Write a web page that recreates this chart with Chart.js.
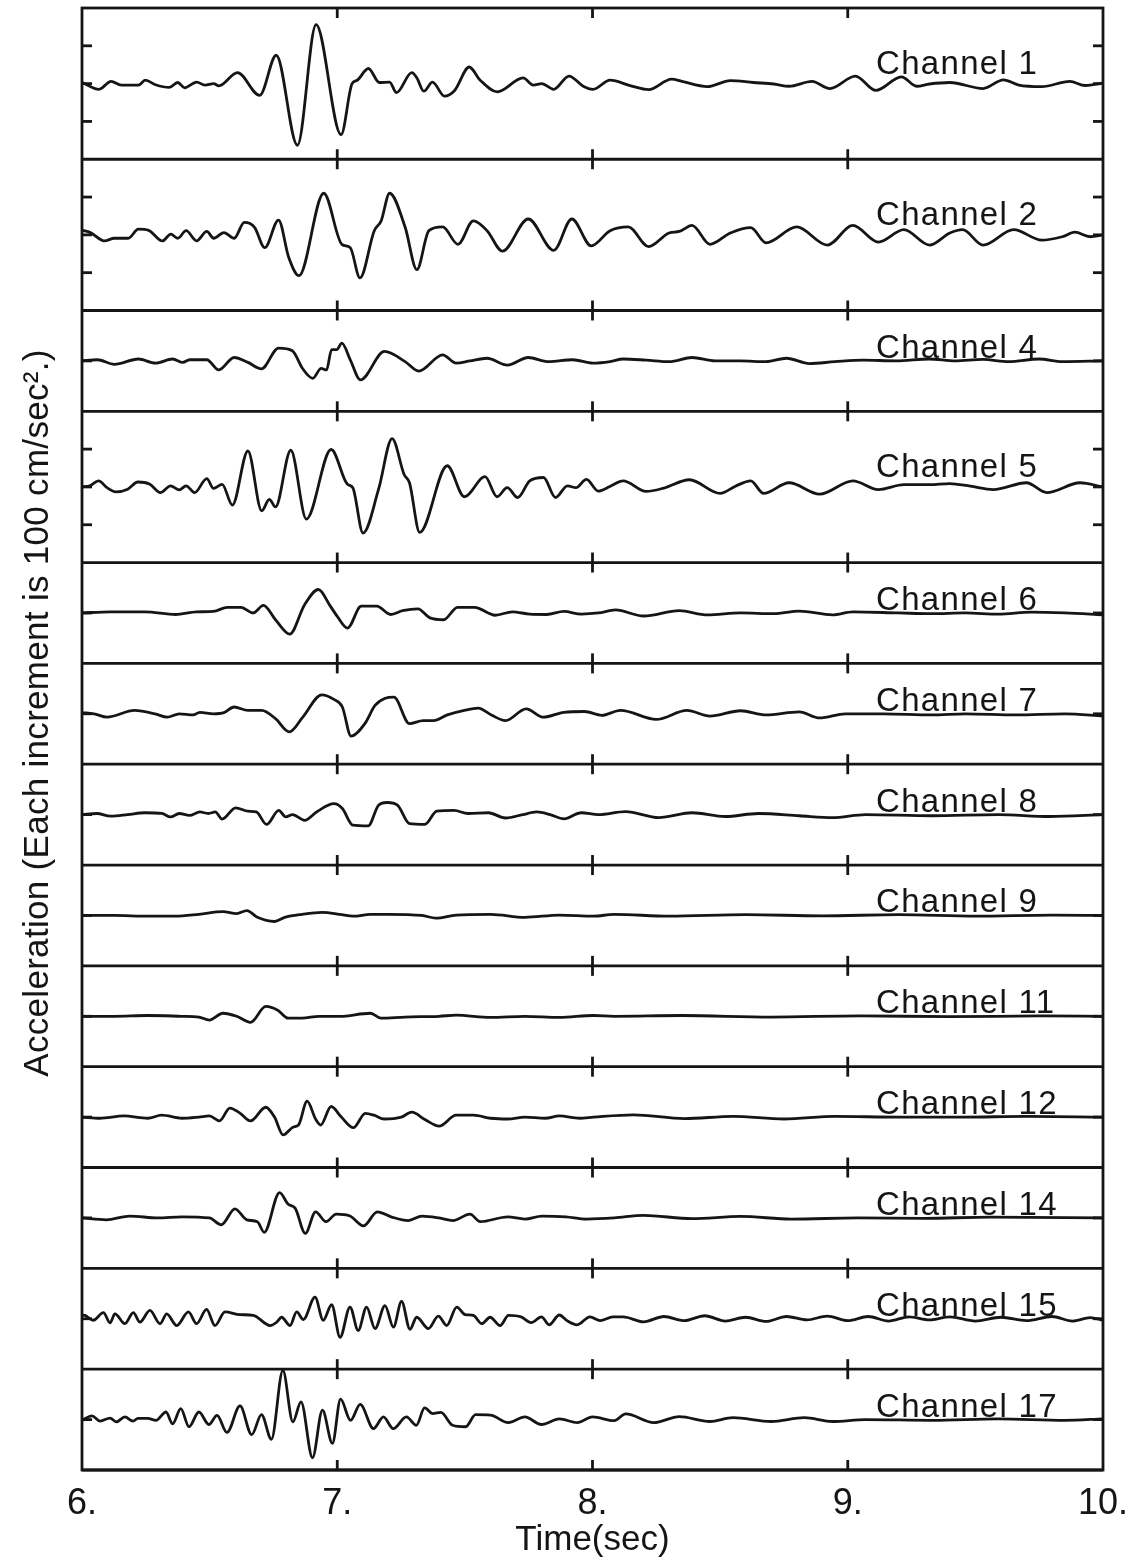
<!DOCTYPE html>
<html>
<head>
<meta charset="utf-8">
<script src="https://cdn.jsdelivr.net/npm/chart.js@4.4.0/dist/chart.umd.min.js"></script>
<style>
  html, body { margin: 0; padding: 0; background: #fff; }
  canvas { display: block; }
</style>
</head>
<body>
<canvas id="quakeChart" width="1135" height="1561"></canvas>
<script>
// time axis (sec)
const xTicks = [6, 7, 8, 9, 10];
const xTickLabels = ['6.', '7.', '8.', '9.', '10.'];

const channelNames = ['Channel 1', 'Channel 2', 'Channel 4', 'Channel 5', 'Channel 6', 'Channel 7',
  'Channel 8', 'Channel 9', 'Channel 11', 'Channel 12', 'Channel 14', 'Channel 15', 'Channel 17'];

// half height of each panel, in increments of 100 cm/sec^2
const panelHalfRange = [2, 2, 4 / 3, 2, 4 / 3, 4 / 3, 4 / 3, 4 / 3, 4 / 3, 4 / 3, 4 / 3, 4 / 3, 4 / 3];

// [time, acceleration], acceleration in units of 100 cm/sec^2
const ch1 = [[6.000,0.03],[6.067,-0.15],[6.114,0.06],[6.154,-0.04],[6.221,-0.04],[6.248,0.09],[6.288,-0.03],
  [6.342,-0.10],[6.375,0.03],[6.402,-0.11],[6.449,0.04],[6.482,-0.04],[6.516,0],[6.536,-0.06],[6.609,0.29],
  [6.696,-0.31],[6.761,0.75],[6.844,-1.63],[6.917,1.56],[7.015,-1.35],[7.058,0],[7.078,0.09],[7.122,0.40],
  [7.165,0.03],[7.205,0.04],[7.232,-0.24],[7.292,0.29],[7.312,0.15],[7.339,-0.20],[7.373,0.04],[7.420,-0.33],
  [7.460,-0.18],[7.517,0.44],[7.560,0.09],[7.627,-0.22],[7.728,0.15],[7.768,-0.04],[7.801,0],[7.848,-0.15],
  [7.908,0.20],[7.962,-0.06],[8.002,-0.15],[8.069,0.09],[8.15,-0.06],[8.22,-0.16],[8.31,0.12],[8.35,0.06],
  [8.45,-0.08],[8.54,0.08],[8.63,0.03],[8.71,-0.01],[8.77,-0.07],[8.86,0.06],[8.93,-0.13],[9.03,0.20],
  [9.11,-0.18],[9.21,0.18],[9.27,-0.07],[9.32,-0.01],[9.40,0.03],[9.53,-0.13],[9.61,0.10],[9.67,-0.04],
  [9.76,-0.08],[9.87,0.06],[9.93,-0.05],[10.0,0.01]];

const ch2 = [[6.000,0.12],[6.033,0.06],[6.087,-0.16],[6.127,-0.09],[6.181,-0.09],[6.221,0.15],[6.261,0.12],
  [6.315,-0.16],[6.348,0.02],[6.375,-0.09],[6.408,0.11],[6.449,-0.16],[6.489,0.09],[6.516,-0.09],[6.556,0.06],
  [6.596,-0.09],[6.636,0.33],[6.676,0.20],[6.716,-0.34],[6.770,0.39],[6.810,-0.60],[6.850,-1.08],[6.947,1.10],
  [7.018,-0.25],[7.051,-0.34],[7.089,-1.14],[7.145,0.11],[7.172,0.37],[7.205,1.10],[7.266,0.20],[7.312,-0.92],
  [7.359,0.11],[7.413,0.21],[7.473,-0.25],[7.533,0.37],[7.587,0.11],[7.647,-0.43],[7.748,0.42],[7.848,-0.41],
  [7.919,0.42],[7.995,-0.29],[8.069,0.11],[8.14,0.21],[8.22,-0.31],[8.30,0.05],[8.34,0.09],[8.39,0.25],
  [8.46,-0.25],[8.54,0.05],[8.62,0.19],[8.68,-0.21],[8.80,0.21],[8.92,-0.27],[9.02,0.25],[9.12,-0.19],
  [9.22,0.14],[9.32,-0.27],[9.40,0.05],[9.45,0.14],[9.53,-0.27],[9.65,0.14],[9.76,-0.14],[9.84,-0.05],
  [9.89,0.07],[9.95,-0.05],[10.0,0]];

const ch4 = [[6.000,0],[6.060,0.03],[6.127,-0.09],[6.221,0.05],[6.288,-0.06],[6.355,0.05],[6.395,-0.04],
  [6.422,0.03],[6.489,0.03],[6.536,-0.24],[6.596,0.09],[6.650,-0.04],[6.703,-0.21],[6.770,0.34],[6.824,0.27],
  [6.864,-0.20],[6.904,-0.46],[6.937,-0.20],[6.958,-0.24],[6.978,0.30],[6.998,0.30],[7.018,0.47],[7.051,0.03],
  [7.091,-0.50],[7.185,0.25],[7.266,-0.02],[7.319,-0.27],[7.413,0.16],[7.466,-0.06],[7.520,0],[7.587,0.07],
  [7.667,-0.11],[7.748,0.09],[7.828,-0.02],[7.922,0.03],[8.002,-0.06],[8.069,-0.02],[8.12,0.05],[8.21,0.02],
  [8.30,-0.02],[8.39,0.09],[8.48,0],[8.58,0],[8.68,-0.02],[8.76,0.07],[8.85,-0.07],[8.95,-0.02],[9.06,0.02],
  [9.19,0],[9.32,0.05],[9.42,0],[9.53,0.04],[9.63,-0.02],[9.75,0.05],[9.84,-0.02],[10.0,0]];

const ch5 = [[6.000,0],[6.031,0.03],[6.065,0.16],[6.098,-0.02],[6.132,-0.13],[6.179,-0.06],[6.219,0.13],
  [6.266,0.07],[6.307,-0.15],[6.347,0.03],[6.381,-0.08],[6.408,0.03],[6.441,-0.15],[6.489,0.22],[6.515,-0.04],
  [6.549,0.07],[6.589,-0.48],[6.650,0.95],[6.704,-0.63],[6.734,-0.33],[6.758,-0.53],[6.818,0.97],[6.879,-0.85],
  [6.976,0.99],[7.040,0.07],[7.061,-0.02],[7.101,-1.22],[7.162,-0.06],[7.215,1.28],[7.262,0.33],[7.283,0.11],
  [7.323,-1.20],[7.431,0.56],[7.498,-0.26],[7.579,0.27],[7.626,-0.26],[7.666,-0.02],[7.707,-0.28],[7.754,0.16],
  [7.808,0.25],[7.855,-0.28],[7.902,0.03],[7.935,-0.02],[7.976,0.20],[8.023,-0.11],[8.07,0.02],[8.12,0.16],
  [8.21,-0.12],[8.28,-0.03],[8.38,0.19],[8.50,-0.17],[8.56,0.02],[8.62,0.16],[8.67,-0.17],[8.77,0.11],
  [8.89,-0.19],[9.02,0.16],[9.12,-0.07],[9.22,0.06],[9.32,0.06],[9.40,0.09],[9.48,0.02],[9.57,-0.07],
  [9.70,0.11],[9.78,-0.15],[9.91,0.11],[10.0,0]];

const ch6 = [[6.000,0],[6.112,0.03],[6.246,0.03],[6.367,-0.04],[6.448,0.03],[6.515,0.04],[6.569,0.15],
  [6.623,0.15],[6.670,0],[6.711,0.20],[6.758,-0.18],[6.814,-0.56],[6.872,0.22],[6.926,0.62],[6.973,0.18],
  [7.000,-0.09],[7.040,-0.40],[7.094,0.18],[7.155,0.18],[7.209,-0.04],[7.256,0.06],[7.316,0.11],[7.363,-0.13],
  [7.417,-0.18],[7.471,0.15],[7.538,0.15],[7.619,-0.06],[7.686,0.03],[7.754,-0.03],[7.821,-0.04],[7.888,0.04],
  [7.956,-0.03],[8.023,0],[8.09,0.08],[8.20,-0.08],[8.34,0.06],[8.45,-0.05],[8.58,0],[8.71,-0.02],[8.81,0.05],
  [8.94,-0.05],[9.02,0.03],[9.20,0],[9.33,-0.02],[9.46,0],[9.59,-0.03],[9.72,0.02],[9.85,0],[10.0,-0.05]];

const ch7 = [[6.000,0.03],[6.047,0],[6.098,-0.09],[6.206,0.09],[6.286,0],[6.334,-0.09],[6.381,0],[6.435,-0.03],
  [6.462,0.04],[6.515,0],[6.556,0.03],[6.596,0.18],[6.650,0.09],[6.704,0.09],[6.758,-0.13],[6.812,-0.48],
  [6.865,-0.09],[6.939,0.50],[6.987,0.38],[7.020,0.18],[7.054,-0.59],[7.108,-0.26],[7.148,0.22],[7.188,0.41],
  [7.222,0.44],[7.283,-0.26],[7.336,-0.18],[7.377,-0.18],[7.431,-0.03],[7.498,0.09],[7.552,0.15],[7.606,-0.04],
  [7.659,-0.18],[7.740,0.13],[7.808,-0.09],[7.888,0.04],[7.969,0.06],[8.036,-0.04],[8.11,0.09],[8.25,-0.15],
  [8.37,0.09],[8.46,-0.06],[8.58,0.08],[8.68,-0.03],[8.81,0.05],[8.89,-0.11],[8.99,0],[9.14,0],[9.33,-0.03],
  [9.46,0],[9.66,-0.03],[9.85,0],[10.0,-0.06]];

const ch8 = [[6.000,0],[6.058,0.03],[6.112,-0.04],[6.179,0],[6.246,0.05],[6.313,0.03],[6.347,-0.06],[6.381,0.03],
  [6.421,-0.02],[6.462,0.07],[6.495,0.03],[6.522,0.07],[6.549,-0.12],[6.602,0.18],[6.650,0.09],[6.683,0.07],
  [6.723,-0.26],[6.771,0.11],[6.798,-0.06],[6.825,0],[6.872,-0.15],[6.919,0.07],[6.987,0.29],[7.020,0.16],
  [7.061,-0.28],[7.121,-0.30],[7.162,0.25],[7.195,0.32],[7.236,0.25],[7.283,-0.24],[7.343,-0.26],[7.390,0.09],
  [7.458,0.11],[7.512,0.03],[7.592,0.05],[7.659,-0.09],[7.727,0],[7.781,0.07],[7.834,0],[7.888,-0.11],
  [7.956,0.05],[8.023,0],[8.13,0.08],[8.26,-0.08],[8.39,0.05],[8.52,-0.05],[8.65,0.03],[8.81,-0.03],
  [8.94,-0.08],[9.07,0],[9.33,-0.03],[9.59,0],[9.79,-0.05],[10.0,0]];

const ch9 = [[6.000,0],[6.124,0],[6.259,-0.02],[6.364,-0.02],[6.458,0.03],[6.552,0.10],[6.606,0.05],
  [6.646,0.13],[6.687,-0.05],[6.754,-0.16],[6.794,-0.05],[6.862,0.03],[6.942,0.08],[7.009,0.03],[7.063,-0.02],
  [7.130,0.03],[7.198,0.03],[7.332,0],[7.386,-0.07],[7.466,0.01],[7.601,0.03],[7.735,-0.05],[7.870,0.01],
  [8.004,-0.02],[8.085,0.03],[8.30,-0.02],[8.60,0.02],[8.90,-0.01],[9.20,0.02],[9.50,-0.02],[9.80,0.01],[10.0,0]];

const ch11 = [[6.000,0],[6.124,0],[6.259,0.02],[6.391,0],[6.458,-0.02],[6.499,-0.10],[6.552,0.08],[6.606,0],
  [6.660,-0.16],[6.720,0.26],[6.767,0.16],[6.808,-0.05],[6.862,-0.05],[6.929,0],[7.009,0],[7.130,0.08],
  [7.171,-0.05],[7.265,-0.02],[7.399,0],[7.466,0.03],[7.601,-0.03],[7.735,0],[7.870,-0.03],[8.004,0.02],
  [8.085,0],[8.35,0.02],[8.70,-0.02],[9.05,0.01],[9.40,-0.01],[9.75,0.01],[10.0,0]];

const ch12 = [[6.000,0],[6.070,-0.03],[6.164,0.03],[6.258,-0.03],[6.312,0.05],[6.391,-0.03],[6.458,0],
  [6.499,0.03],[6.539,-0.10],[6.579,0.24],[6.620,0.10],[6.660,-0.10],[6.720,0.26],[6.754,0],[6.788,-0.47],
  [6.828,-0.26],[6.848,-0.21],[6.882,0.42],[6.915,-0.05],[6.935,-0.21],[6.976,0.28],[7.016,0],[7.063,-0.28],
  [7.110,0.10],[7.144,0.05],[7.184,-0.05],[7.251,0],[7.292,0.13],[7.345,-0.07],[7.399,-0.24],[7.466,0.05],
  [7.534,0.05],[7.601,-0.03],[7.668,-0.05],[7.735,0],[7.815,-0.03],[7.870,0.03],[7.950,-0.03],[8.004,0],
  [8.16,0.06],[8.36,-0.04],[8.55,0.02],[8.75,-0.05],[8.95,0.02],[9.20,0],[9.45,0],[9.70,0.02],[10.0,0]];

const ch14 = [[6.000,0],[6.095,-0.05],[6.188,0.05],[6.297,0],[6.391,0.03],[6.499,0],[6.546,-0.18],[6.599,0.24],
  [6.646,-0.05],[6.687,-0.10],[6.714,-0.38],[6.774,0.67],[6.808,0.36],[6.835,0.26],[6.875,-0.41],[6.915,0.16],
  [6.956,-0.10],[6.996,0.10],[7.050,0.05],[7.103,-0.21],[7.157,0.16],[7.211,0.03],[7.278,-0.07],[7.332,0.05],
  [7.399,0],[7.453,-0.07],[7.520,0.10],[7.560,-0.10],[7.668,0.03],[7.735,-0.03],[7.802,0.05],[7.896,0.03],
  [7.976,-0.03],[8.085,0],[8.20,0.07],[8.39,-0.02],[8.58,0.04],[8.78,-0.03],[9.04,0],[9.30,-0.01],[9.56,0.02],
  [10.0,0]];

const ch15 = [[6.000,0.10],[6.012,0.09],[6.044,-0.04],[6.084,0.16],[6.110,-0.11],[6.129,0.13],[6.168,-0.13],
  [6.201,0.16],[6.227,-0.09],[6.266,0.22],[6.306,-0.13],[6.332,0.13],[6.371,-0.18],[6.417,0.18],[6.449,-0.13],
  [6.488,0.25],[6.521,-0.18],[6.560,0.18],[6.619,0.11],[6.671,0.09],[6.737,-0.18],[6.763,-0.09],[6.782,0.04],
  [6.815,-0.18],[6.841,0.18],[6.867,-0.02],[6.913,0.57],[6.945,-0.04],[6.978,0.37],[7.011,-0.49],[7.050,0.31],
  [7.082,-0.31],[7.115,0.31],[7.148,-0.26],[7.187,0.35],[7.220,-0.22],[7.252,0.46],[7.285,-0.28],[7.311,0.04],
  [7.357,-0.26],[7.396,0.07],[7.429,-0.18],[7.468,0.31],[7.501,0.11],[7.533,0.09],[7.566,-0.13],[7.599,0.04],
  [7.638,-0.18],[7.671,0.09],[7.72,0.05],[7.76,-0.10],[7.80,0.05],[7.83,-0.16],[7.87,0.10],[7.90,-0.05],
  [7.94,-0.16],[7.99,0.05],[8.03,-0.05],[8.08,0.05],[8.12,0.05],[8.20,-0.08],[8.28,0.06],[8.36,-0.05],
  [8.44,0.08],[8.52,-0.06],[8.60,0.04],[8.68,-0.07],[8.76,0.06],[8.84,-0.03],[8.92,0.07],[9.00,-0.05],
  [9.08,0.06],[9.16,-0.06],[9.24,0.05],[9.32,-0.03],[9.40,0.05],[9.50,-0.06],[9.60,0.04],[9.70,-0.05],
  [9.80,0.06],[9.88,-0.06],[9.95,0.03],[10.0,-0.04]];

const ch17 = [[6.000,-0.02],[6.039,0.10],[6.071,-0.04],[6.110,0.04],[6.135,-0.06],[6.168,0.07],[6.200,-0.04],
  [6.219,0.03],[6.258,0.03],[6.290,-0.02],[6.329,0.20],[6.355,-0.11],[6.387,0.29],[6.419,-0.19],[6.458,0.20],
  [6.497,-0.13],[6.529,0.11],[6.568,-0.34],[6.619,0.36],[6.665,-0.40],[6.703,0.13],[6.742,-0.52],[6.787,1.30],
  [6.826,-0.06],[6.858,0.47],[6.903,-1.01],[6.942,0.25],[6.981,-0.63],[7.013,0.54],[7.052,-0.02],[7.090,0.40],
  [7.142,-0.24],[7.181,0.07],[7.219,-0.24],[7.271,0.07],[7.310,-0.15],[7.342,0.31],[7.374,0.16],[7.406,0.19],
  [7.452,-0.15],[7.503,-0.19],[7.542,0.13],[7.60,0.12],[7.67,-0.08],[7.735,0.07],[7.80,-0.13],[7.87,0.02],
  [7.94,-0.08],[8.00,0.07],[8.085,-0.03],[8.13,0.15],[8.24,-0.08],[8.34,0.08],[8.46,-0.05],[8.55,0.05],
  [8.70,-0.05],[8.83,0.05],[8.94,-0.05],[9.07,0],[9.33,-0.02],[9.59,0.02],[9.85,-0.02],[10.0,0.02]];

const channelData = [ch1, ch2, ch4, ch5, ch6, ch7, ch8, ch9, ch11, ch12, ch14, ch15, ch17];

const yTitle = 'Acceleration (Each increment is 100 cm/sec\u00B2.)';
const xTitle = 'Time(sec)';

const FONT = "'Liberation Sans', Arial, Helvetica, sans-serif";
const INK = '#151515';

/**
 * Panel frames, tick marks, channel labels and the rotated y title.
 * Everything is placed through the chart's own scales.
 */
const panelPlugin = {
  id: 'panels',
  afterDatasetsDraw(chart) {
    const { ctx, chartArea: a, scales } = chart;
    const xs = scales.x;
    ctx.save();
    ctx.strokeStyle = INK;
    ctx.lineWidth = 2.8;
    ctx.lineCap = 'butt';

    const seg = (x1, y1, x2, y2) => {
      ctx.beginPath();
      ctx.moveTo(x1, y1);
      ctx.lineTo(x2, y2);
      ctx.stroke();
    };

    // outer frame
    ctx.strokeRect(a.left, a.top, a.right - a.left, a.bottom - a.top);

    channelNames.forEach((name, i) => {
      const ys = scales['y' + i];
      // separator under the panel
      seg(a.left, ys.bottom, a.right, ys.bottom);

      // time ticks across the top and bottom edge of the panel
      xTicks.forEach(t => {
        if (t === xs.min || t === xs.max) return;
        const px = xs.getPixelForValue(t);
        seg(px, ys.top, px, ys.top + 10);
        seg(px, ys.bottom - 10, px, ys.bottom);
      });

      // acceleration increments on both sides (only the tall panels show +-1)
      const half = panelHalfRange[i];
      const incs = half >= 2 ? [-1, 0, 1] : [0];
      incs.forEach(v => {
        const py = ys.getPixelForValue(v);
        seg(a.left, py, a.left + 10, py);
        seg(a.right - 10, py, a.right, py);
      });

      // channel label
      ctx.fillStyle = INK;
      ctx.font = '33px ' + FONT;
      ctx.letterSpacing = '1.3px';
      ctx.textAlign = 'left';
      ctx.textBaseline = 'alphabetic';
      const labelY = ys.getPixelForValue(0) - (half >= 2 ? 10 : 3);
      ctx.fillText(name, xs.getPixelForValue(9.111), labelY);
    });

    // y axis title, rotated
    ctx.font = '35px ' + FONT;
    ctx.letterSpacing = '0.3px';
    ctx.textAlign = 'center';
    ctx.textBaseline = 'middle';
    ctx.translate(38, 713);
    ctx.rotate(-Math.PI / 2);
    ctx.fillText(yTitle, 0, 0);
    ctx.restore();
  }
};

// stacked panels are laid out bottom first, so add the last channel first
const yScales = {};
for (let i = channelNames.length - 1; i >= 0; i--) {
  yScales['y' + i] = {
    type: 'linear',
    position: 'left',
    stack: 'channels',
    stackWeight: panelHalfRange[i],
    min: -panelHalfRange[i],
    max: panelHalfRange[i],
    grid: { display: false },
    border: { display: false },
    ticks: { display: false },
    afterFit: s => { s.width = 0; }
  };
}

const ctx = document.getElementById('quakeChart').getContext('2d');
new Chart(ctx, {
  type: 'line',
  data: {
    datasets: channelData.map((pts, i) => ({
      label: channelNames[i],
      data: pts.map(p => ({ x: p[0], y: p[1] })),
      yAxisID: 'y' + i,
      borderColor: INK,
      borderWidth: 2.8,
      pointRadius: 0,
      fill: false,
      cubicInterpolationMode: 'monotone'
    }))
  },
  options: {
    responsive: false,
    animation: false,
    devicePixelRatio: 1,
    layout: { padding: { top: 8, left: 82, right: 32, bottom: 0 } },
    plugins: {
      legend: { display: false },
      tooltip: { enabled: false }
    },
    scales: Object.assign({
      x: {
        type: 'linear',
        position: 'bottom',
        min: 6,
        max: 10,
        grid: { display: false },
        border: { display: false },
        afterBuildTicks: s => { s.ticks = xTicks.map(v => ({ value: v })); },
        afterFit: s => {
          s.height = 91;
          s.paddingLeft = 0;
          s.paddingRight = 0;
        },
        ticks: {
          color: INK,
          padding: 4,
          maxRotation: 0,
          autoSkip: false,
          font: { family: FONT, size: 36 },
          callback: (v, i) => xTickLabels[i]
        },
        title: {
          display: true,
          text: xTitle,
          color: INK,
          padding: { top: 0, bottom: 0 },
          font: { family: FONT, size: 35 }
        }
      }
    }, yScales)
  },
  plugins: [panelPlugin]
});
</script>
</body>
</html>
